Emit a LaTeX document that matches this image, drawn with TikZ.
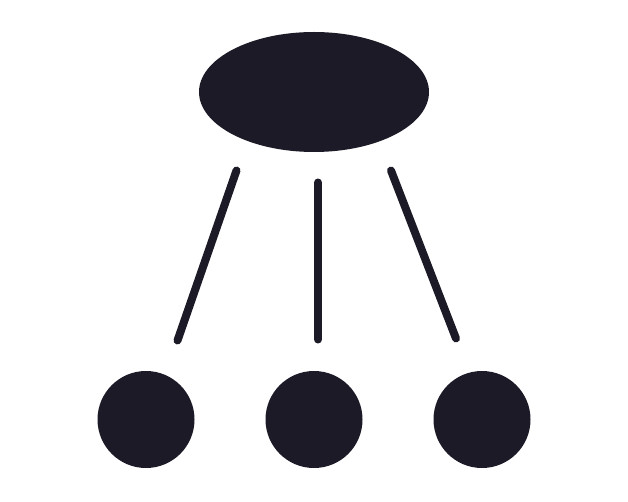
\documentclass[tikz,border=0pt]{standalone}
\usetikzlibrary{shapes.geometric}
\definecolor{ink}{HTML}{1B1A26}
\begin{document}
\begin{tikzpicture}[x=1pt,y=-1pt,
  blob/.style={ellipse,fill=ink,draw=none,minimum width=230pt,minimum height=120pt,inner sep=0pt},
  dot/.style={circle,fill=ink,draw=none,minimum size=97pt,inner sep=0pt},
  link/.style={draw=ink,line width=8pt,line cap=round}]
\useasboundingbox (0,0) rectangle (628,502);
\node[blob] (top) at (314,92) {};
\node[dot] (c1) at (146,419.5) {};
\node[dot] (c2) at (314,419.5) {};
\node[dot] (c3) at (482,419.5) {};
\coordinate (a1) at (236.5,170.5);
\coordinate (b1) at (177.5,340.5);
\coordinate (a2) at (318,182.5);
\coordinate (b2) at (318,339.5);
\coordinate (a3) at (391,170.5);
\coordinate (b3) at (456,338.5);
\draw[link] (a1) -- (b1);
\draw[link] (a2) -- (b2);
\draw[link] (a3) -- (b3);
\end{tikzpicture}
\end{document}
